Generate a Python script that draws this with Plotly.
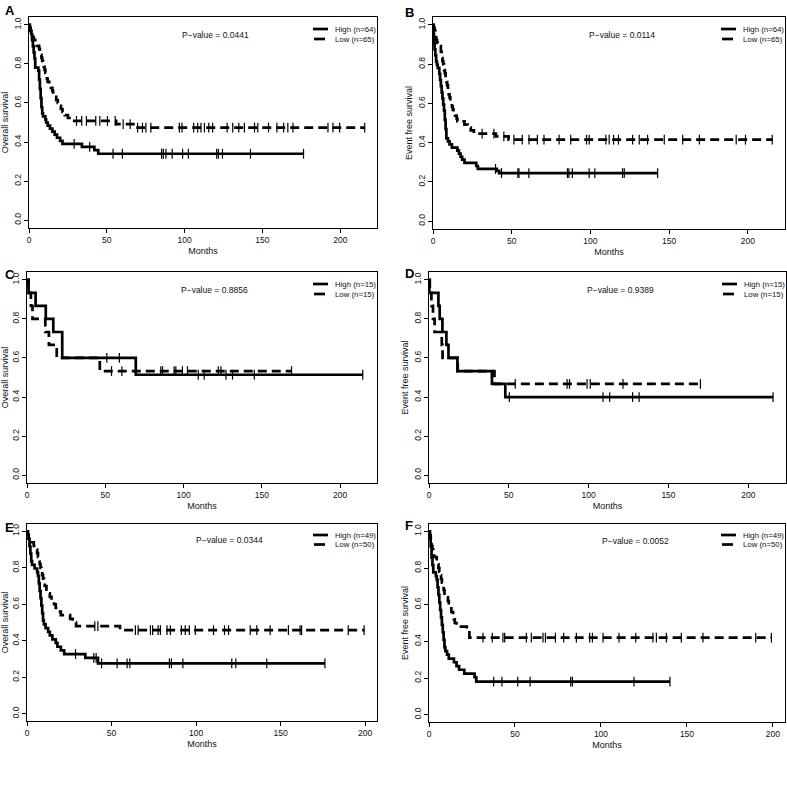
import numpy as np
import plotly.graph_objects as go

W, H = 787, 796

# ------------------------- DATA -------------------------
# Kaplan-Meier step points (time in months, survival after event) and censor times
A_high_t = [0.5, 1, 1.5, 2, 2.5, 3, 3.5, 4, 6, 6.5, 7, 7.5, 8, 8.5, 9, 10.5, 11, 12, 13.5, 15, 16.5, 18, 20, 21.5, 34, 42, 44.5]
A_high_s = [0.984, 0.969, 0.953, 0.922, 0.891, 0.859, 0.828, 0.781, 0.766, 0.719, 0.672, 0.625, 0.578, 0.547, 0.531, 0.516, 0.500, 0.484, 0.469, 0.453, 0.438, 0.422, 0.406, 0.391, 0.375, 0.359, 0.340]
A_high_c = [29, 39, 54, 60, 85.2, 86.3, 88, 92, 98.7, 102.4, 120.6, 121.7, 124.3, 142.3, 176.4]
A_low_t = [0.5, 1, 1.5, 2, 3, 4, 5, 6.5, 7, 7.5, 8, 8.5, 9, 9.5, 10, 10.5, 11, 11.5, 12, 13, 14, 15, 15.5, 16.5, 17.5, 18.5, 19.5, 20.5, 21.5, 23, 25, 28, 56, 68]
A_low_s = [0.985, 0.969, 0.954, 0.938, 0.923, 0.908, 0.892, 0.877, 0.862, 0.846, 0.831, 0.815, 0.800, 0.785, 0.769, 0.754, 0.738, 0.723, 0.708, 0.692, 0.677, 0.662, 0.646, 0.631, 0.615, 0.600, 0.585, 0.569, 0.554, 0.538, 0.523, 0.508, 0.492, 0.474]
A_low_c = [30.5, 33.9, 36.9, 42.9, 45.5, 50.4, 55.4, 60.5, 65, 69.8, 72.9, 75.1, 78.3, 96.6, 98.3, 105.8, 108.4, 110.5, 112.7, 115.5, 118, 127.3, 130.9, 134.8, 138.4, 144.9, 147, 153.9, 159.3, 163.6, 166.3, 169.6, 192.1, 195.3, 199.6, 215.7]

B_high_t = [0.3, 0.6, 1, 1.5, 2, 2.5, 3, 4, 4.5, 5, 5.5, 6, 6.5, 7, 7.5, 8, 8.5, 9.5, 10.5, 12, 15.5, 16.5, 17.5, 18.5, 20, 27.5, 28.5, 40.5, 42]
B_high_s = [0.953, 0.906, 0.875, 0.844, 0.813, 0.797, 0.781, 0.750, 0.719, 0.688, 0.656, 0.625, 0.594, 0.563, 0.516, 0.469, 0.422, 0.406, 0.391, 0.375, 0.359, 0.344, 0.328, 0.313, 0.297, 0.281, 0.266, 0.256, 0.245]
B_high_c = [39.7, 43.5, 53.9, 54.6, 60.9, 85.4, 86.3, 88.5, 99.2, 102.8, 120.4, 121.5, 142.7]
B_low_t = [0.5, 1, 1.5, 2, 2.5, 3, 5, 5.5, 6, 6.5, 7, 7.5, 8, 8.5, 9, 9.5, 10, 10.5, 11, 12, 12.5, 13, 14, 15, 15.5, 20, 22, 24, 26, 40, 48]
B_low_s = [0.985, 0.969, 0.954, 0.923, 0.908, 0.892, 0.862, 0.831, 0.815, 0.800, 0.769, 0.754, 0.723, 0.708, 0.692, 0.662, 0.646, 0.631, 0.600, 0.585, 0.569, 0.554, 0.538, 0.523, 0.508, 0.492, 0.477, 0.462, 0.446, 0.432, 0.415]
B_low_c = [31.2, 38.7, 45.0, 51.4, 56.7, 61.0, 66.3, 70.5, 80.1, 87.5, 97.5, 99.2, 109.8, 111.9, 114.7, 117.8, 126.8, 131.0, 136.3, 146.9, 158.6, 169.2, 192.6, 198.5, 215.5]

C_high_t = [1, 5.5, 12, 16.8, 22.5, 69.5]
C_high_s = [0.933, 0.867, 0.800, 0.733, 0.600, 0.514]
C_high_c = [51, 59, 109.4, 113.2, 127.1, 131.3, 145.2, 214.5]
C_low_t = [1, 2.5, 3.5, 11.7, 14, 19, 46.5]
C_low_s = [0.933, 0.867, 0.800, 0.733, 0.667, 0.600, 0.533]
C_low_c = [54, 60.6, 85.5, 86.6, 94, 95.1, 99.3, 102.5, 122.2, 123.9, 169]

D_high_t = [0.2, 5.9, 6.7, 8.4, 10.9, 12.2, 17.8, 39.4, 47.8]
D_high_s = [0.933, 0.867, 0.800, 0.733, 0.667, 0.600, 0.533, 0.467, 0.400]
D_high_c = [50.3, 109, 113.2, 127.5, 131.6, 215.5]
D_low_t = [0.5, 1.5, 2.5, 3.5, 8, 8.5, 18, 41]
D_low_s = [0.933, 0.867, 0.800, 0.733, 0.667, 0.600, 0.533, 0.467]
D_low_c = [54, 86.5, 88, 99, 101, 121.5, 170]

E_high_t = [0.5, 1, 1.5, 2, 2.5, 3, 4.5, 6, 6.5, 7, 7.5, 8, 8.5, 9, 9.5, 10, 11, 12.5, 13.5, 15, 17, 18, 20, 22, 34.5, 42]
E_high_s = [0.980, 0.959, 0.918, 0.878, 0.837, 0.816, 0.796, 0.776, 0.755, 0.714, 0.673, 0.633, 0.592, 0.551, 0.510, 0.490, 0.469, 0.449, 0.429, 0.408, 0.388, 0.367, 0.347, 0.327, 0.306, 0.276]
E_high_c = [28.7, 39.5, 40.9, 44.1, 53.3, 59.2, 60.8, 84.2, 85.4, 92.2, 121.1, 123.5, 141.8, 176.2]
E_low_t = [0.5, 1, 2, 4, 5, 6, 6.5, 7, 7.5, 8, 8.5, 9, 9.5, 10, 10.5, 11.5, 12.5, 13.5, 14.5, 16, 17, 18.5, 20, 25.5, 27, 29, 55]
E_low_s = [0.98, 0.96, 0.94, 0.92, 0.90, 0.88, 0.86, 0.84, 0.82, 0.80, 0.78, 0.76, 0.74, 0.72, 0.70, 0.68, 0.66, 0.64, 0.62, 0.60, 0.58, 0.56, 0.54, 0.52, 0.50, 0.48, 0.458]
E_low_c = [40.1, 41.9, 64.1, 65.7, 73, 74.3, 77.5, 78.9, 82.8, 84.8, 91.3, 93.6, 96, 99.5, 110.3, 116.8, 119.2, 132, 135.9, 143.8, 154.6, 161.5, 162.4, 190, 199.4]

F_high_t = [0.5, 1, 1.5, 2, 2.5, 4, 4.5, 5, 5.5, 6, 6.5, 7, 7.5, 8, 8.5, 9, 9.5, 10.5, 11.5, 14.5, 16, 17.5, 20.5, 26.5, 27.5]
F_high_s = [0.959, 0.918, 0.857, 0.816, 0.776, 0.755, 0.735, 0.694, 0.653, 0.612, 0.571, 0.531, 0.490, 0.449, 0.408, 0.367, 0.347, 0.327, 0.306, 0.286, 0.265, 0.245, 0.224, 0.204, 0.180]
F_high_c = [37.6, 42.4, 51.6, 58.8, 82.4, 83.4, 119.2, 140.1]
F_low_t = [0.5, 1, 1.5, 2, 2.5, 3, 4.5, 5, 5.5, 6, 6.5, 7, 7.5, 8, 8.5, 9, 10, 11, 11.5, 12, 13, 14, 14.5, 15, 16, 22, 23.5]
F_low_s = [0.98, 0.94, 0.92, 0.90, 0.88, 0.86, 0.84, 0.82, 0.80, 0.78, 0.76, 0.74, 0.72, 0.70, 0.68, 0.66, 0.64, 0.62, 0.60, 0.58, 0.56, 0.54, 0.52, 0.50, 0.48, 0.46, 0.42]
F_low_c = [31.4, 36.8, 43, 44, 56.6, 59.5, 66.3, 67.7, 73.5, 78.3, 85.7, 93.4, 95, 101.2, 110.5, 120.2, 130.2, 132.2, 138, 146.7, 159.3, 190, 199.1]

panel_letters = ["A", "B", "C", "D", "E", "F"]
y_titles = ["Overall survival", "Event free survival"] * 3
x_title = "Months"
p_values = ["0.0441", "0.0114", "0.8856", "0.9389", "0.0344", "0.0052"]
n_high = [64, 64, 15, 15, 49, 49]
n_low = [65, 65, 15, 15, 50, 50]
x_ticks = [0, 50, 100, 150, 200]
y_ticks = [0.0, 0.2, 0.4, 0.6, 0.8, 1.0]
y_ticktext = ["0.0", "0.2", "0.4", "0.6", "0.8", "1.0"]

high_data = [(A_high_t, A_high_s, A_high_c), (B_high_t, B_high_s, B_high_c), (C_high_t, C_high_s, C_high_c),
             (D_high_t, D_high_s, D_high_c), (E_high_t, E_high_s, E_high_c), (F_high_t, F_high_s, F_high_c)]
low_data = [(A_low_t, A_low_s, A_low_c), (B_low_t, B_low_s, B_low_c), (C_low_t, C_low_s, C_low_c),
            (D_low_t, D_low_s, D_low_c), (E_low_t, E_low_s, E_low_c), (F_low_t, F_low_s, F_low_c)]

# ------------------------- LAYOUT GEOMETRY (pixels) -------------------------
boxes = [(29, 17, 377, 228), (433, 17, 785, 229), (27, 272, 377, 483),
         (429, 272, 786, 483), (27, 524, 377, 721), (429, 524, 785, 722)]
x_max = [223.6, 223.6, 223.6, 223.6, 207, 207]
legend_rows = [(12, 22), (12, 22), (12, 22), (12, 22), (11, 20.5), (11, 20.5)]
letter_pos = [(3, 1), (403, 3), (3, 265), (403, 264), (3, 518), (403, 516)]

FONT = "Liberation Sans, Arial, Helvetica, sans-serif"
INK = "#111111"
DASH = "9px,5px"


def px_x(p):
    return p / W


def px_y(p):
    return 1 - p / H


def step_xy(t, s, c):
    end = max(c) if c else t[-1]
    return [0] + list(t) + [end], [1.0] + list(s) + [s[-1]]


def surv_at(t, s, q):
    t = np.asarray(t)
    s = np.asarray(s)
    idx = np.searchsorted(t, np.asarray(q), side="right") - 1
    return np.where(idx >= 0, s[np.clip(idx, 0, None)], 1.0)


fig = go.Figure()
layout = dict(
    width=W, height=H, margin=dict(l=0, r=0, t=0, b=0),
    paper_bgcolor="white", plot_bgcolor="white", showlegend=False,
    font=dict(family=FONT, color=INK, size=8),
)
annotations = []
shapes = []

for i in range(6):
    k = "" if i == 0 else str(i + 1)
    xa, ya = "x" + k, "y" + k
    x0, y0, x1, y1 = boxes[i]

    for (t, s, c), dash in ((high_data[i], "solid"), (low_data[i], DASH)):
        sx, sy = step_xy(t, s, c)
        fig.add_trace(go.Scatter(x=sx, y=sy, mode="lines", xaxis=xa, yaxis=ya,
                                 line=dict(color="black", width=2.7, shape="hv", dash=dash),
                                 hoverinfo="skip"))
        fig.add_trace(go.Scatter(x=c, y=surv_at(t, s, c), mode="markers", xaxis=xa, yaxis=ya,
                                 marker=dict(symbol="line-ns-open", size=7, color="black",
                                             line=dict(color="black", width=1.2)),
                                 hoverinfo="skip"))

    layout["xaxis" + k] = dict(
        domain=[px_x(x0), px_x(x1)], anchor=ya, range=[0, x_max[i]],
        tickvals=x_ticks, ticks="outside", ticklen=4, tickwidth=1, tickcolor="black",
        showline=True, mirror=True, linecolor="black", linewidth=1,
        showgrid=False, zeroline=False, automargin=False,
        tickfont=dict(size=8.5, family=FONT, color=INK),
        title=dict(text=x_title, font=dict(size=9, family=FONT, color=INK), standoff=3),
    )
    layout["yaxis" + k] = dict(
        domain=[px_y(y1), px_y(y0)], anchor=xa, range=[-0.04, 1.04],
        tickvals=y_ticks, ticktext=y_ticktext, tickangle=-90,
        ticks="outside", ticklen=4, tickwidth=1, tickcolor="black",
        showline=True, mirror=True, linecolor="black", linewidth=1,
        showgrid=False, zeroline=False, automargin=False,
        tickfont=dict(size=8.5, family=FONT, color=INK),
        title=dict(text=y_titles[i], font=dict(size=9, family=FONT, color=INK), standoff=2),
    )

    # p-value
    annotations.append(dict(x=120, y=0.95, xref=xa, yref=ya, text="P\u2212value = " + p_values[i],
                            showarrow=False, xanchor="center", yanchor="middle",
                            font=dict(size=8.5, family=FONT, color=INK)))
    # legend
    r1, r2 = legend_rows[i]
    for row, lab, dsh, lx0, lx1 in ((r1, "High (n=%d)" % n_high[i], "solid", x1 - 64, x1 - 49),
                                     (r2, "Low (n=%d)" % n_low[i], "solid", x1 - 63, x1 - 52)):
        shapes.append(dict(type="line", xref="paper", yref="paper",
                           x0=px_x(lx0), x1=px_x(lx1), y0=px_y(y0 + row), y1=px_y(y0 + row),
                           line=dict(color="black", width=2.7, dash=dsh)))
        annotations.append(dict(x=px_x(x1 - 44), y=px_y(y0 + row), xref="paper", yref="paper",
                                text=lab, showarrow=False, xanchor="left", yanchor="middle",
                                font=dict(size=7.8, family=FONT, color=INK)))
    # panel letter
    lx, ly = letter_pos[i]
    annotations.append(dict(x=px_x(lx), y=px_y(ly), xref="paper", yref="paper",
                            text="<b>%s</b>" % panel_letters[i], showarrow=False,
                            xanchor="left", yanchor="top",
                            font=dict(size=13, family=FONT, color="black")))

layout["annotations"] = annotations
layout["shapes"] = shapes
fig.update_layout(**layout)
fig.write_html("out.html", config={"displayModeBar": False},
               post_script="document.body.style.margin='0';document.body.style.padding='0';"
                           "document.body.style.overflow='hidden';")
